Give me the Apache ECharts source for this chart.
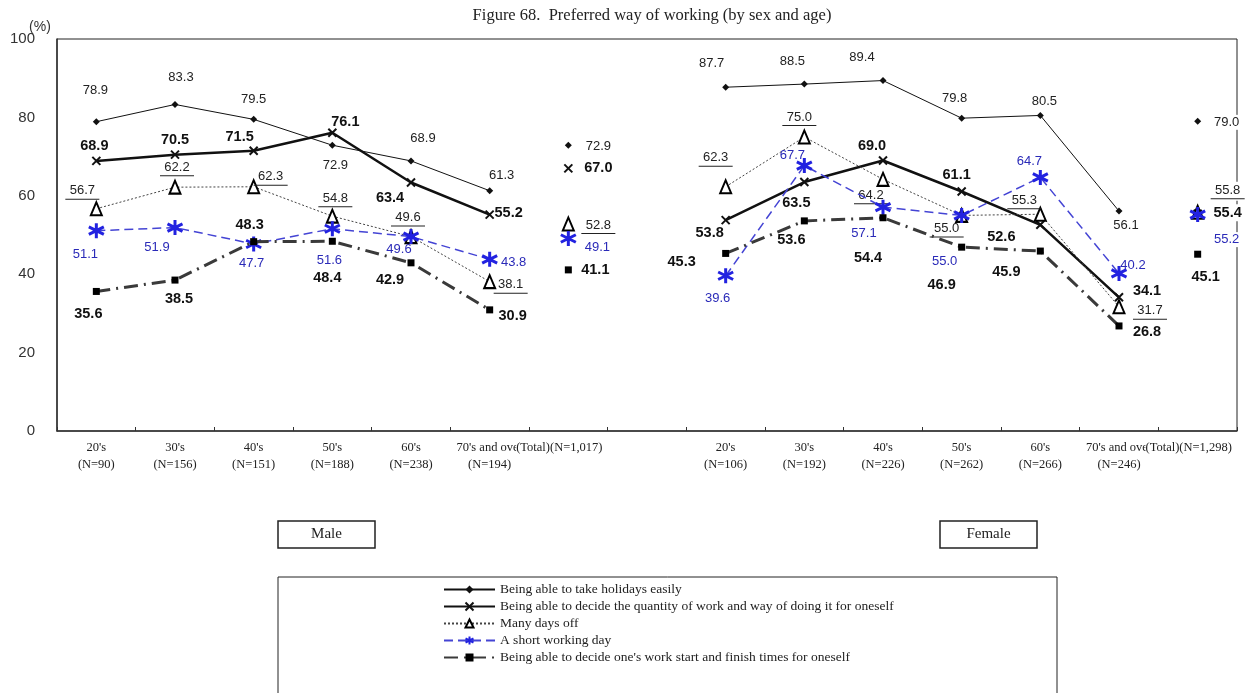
<!DOCTYPE html>
<html>
<head>
<meta charset="utf-8">
<script src="https://cdn.jsdelivr.net/npm/echarts@6/dist/echarts.min.js"></script>
<style>
  html, body { margin: 0; padding: 0; background: #fff; }
  #chart { width: 1254px; height: 693px; }
</style>
</head>
<body>
<div id="chart"></div>
<script>
// Age groups: male block, male total, a spacer slot, female block, female total
const categories = [
  "20's\n(N=90)", "30's\n(N=156)", "40's\n(N=151)", "50's\n(N=188)", "60's\n(N=238)", "70's and over\n(N=194)",
  "(Total)(N=1,017)", "",
  "20's\n(N=106)", "30's\n(N=192)", "40's\n(N=226)", "50's\n(N=262)", "60's\n(N=266)", "70's and over\n(N=246)",
  "(Total)(N=1,298)"
];
const yTicks = [0, 20, 40, 60, 80, 100];

const seriesNames = [
  "Being able to take holidays easily",
  "Being able to decide the quantity of work and way of doing it for oneself",
  "Many days off",
  "A short working day",
  "Being able to decide one's work start and finish times for oneself"
];

// Percentages by age group; totals are [male, female]
const holidaysMale   = [78.9, 83.3, 79.5, 72.9, 68.9, 61.3];
const holidaysFemale = [87.7, 88.5, 89.4, 79.8, 80.5, 56.1];
const holidaysTotal  = [72.9, 79.0];

const quantityMale   = [68.9, 70.5, 71.5, 76.1, 63.4, 55.2];
const quantityFemale = [53.8, 63.5, 69.0, 61.1, 52.6, 34.1];
const quantityTotal  = [67.0, 55.4];

const daysOffMale    = [56.7, 62.2, 62.3, 54.8, 49.6, 38.1];
const daysOffFemale  = [62.3, 75.0, 64.2, 55.0, 55.3, 31.7];
const daysOffTotal   = [52.8, 55.8];

const shortDayMale   = [51.1, 51.9, 47.7, 51.6, 49.6, 43.8];
const shortDayFemale = [39.6, 67.7, 57.1, 55.0, 64.7, 40.2];
const shortDayTotal  = [49.1, 55.2];

const startEndMale   = [35.6, 38.5, 48.3, 48.4, 42.9, 30.9];
const startEndFemale = [45.3, 53.6, 54.4, 46.9, 45.9, 26.8];
const startEndTotal  = [41.1, 45.1];

// Label offsets in px from each marker: 6 male, male total, 6 female, female total
const holidaysLabelPos = [[-1,-31],[6,-27],[0,-20],[3,20],[12,-22],[12,-15],[30,1],
                          [-14,-24],[-12,-23],[-21,-23],[-7,-20],[4,-14],[7,14],[29,1]];
const quantityLabelPos = [[-2,-15],[0,-15],[-14,-14],[13,-11],[-21,16],[19,-2],[30,0],
                          [-16,13],[-8,21],[-11,-15],[-5,-16],[-39,12],[28,-6],[30,-1]];
const daysOffLabelPos  = [[-14,-18],[2,-20],[17,-10],[3,-18],[-3,-19],[21,3],[30,1],
                          [-10,-29],[-5,-20],[-12,16],[-15,13],[-16,-14],[31,4],[30,-22]];
const shortDayLabelPos = [[-11,24],[-18,20],[-2,19],[-3,32],[-12,13],[24,3],[29,9],
                          [-8,23],[-12,-10],[-19,26],[-17,46],[-11,-16],[14,-8],[29,25]];
const startEndLabelPos = [[-8,23],[4,19],[-4,-17],[-5,37],[-21,17],[23,6],[27,0],
                          [-44,9],[-13,19],[-15,40],[-20,38],[-34,21],[28,6],[8,23]];

const SANS = 'Liberation Sans, Arial, sans-serif';
const SERIF = 'Liberation Serif, Times New Roman, serif';
const crossSymbol = 'path://M0,0L10,10M10,0L0,10';
const starSymbol = 'path://M5,0L5,10M0.7,2.5L9.3,7.5M0.7,7.5L9.3,2.5';

const fmt = p => p.value.toFixed(1);
const fmtUnderline = p => '{t|' + p.value.toFixed(1) + '}\n{u| }';

const plainLabel = { color: '#222', fontSize: 13, fontFamily: SANS };
const boldLabel = { color: '#111', fontSize: 14.5, fontWeight: 'bold', fontFamily: SANS };
const blueLabel = { color: '#2a2ab8', fontSize: 13, fontFamily: SANS };
const underlineLabel = {
  rich: {
    t: { color: '#222', fontSize: 13, fontFamily: SANS, lineHeight: 15 },
    u: { width: 34, height: 1, lineHeight: 2, fontSize: 1, backgroundColor: '#222' }
  }
};

function lineData(male, female, pos, dy) {
  const d = [];
  const item = (v, o) => ({ value: v, label: { offset: [o[0], o[1] + dy] } });
  male.forEach((v, i) => d.push(item(v, pos[i])));
  d.push('-', '-');
  female.forEach((v, i) => d.push(item(v, pos[7 + i])));
  d.push('-');
  return d;
}
function totalData(total, pos, dy) {
  const d = categories.map(() => '-');
  d[6] = { value: total[0], label: { offset: [pos[6][0], pos[6][1] + dy] } };
  d[14] = { value: total[1], label: { offset: [pos[13][0], pos[13][1] + dy],
                                      backgroundColor: '#fff', padding: [1, 2] } };
  return d;
}

const defs = [
  { male: holidaysMale, female: holidaysFemale, total: holidaysTotal, pos: holidaysLabelPos,
    line: { color: '#111', width: 1 }, symbol: 'diamond', size: 7,
    item: { color: '#111', opacity: 1 }, label: Object.assign({ formatter: fmt }, plainLabel), dy: 0 },
  { male: quantityMale, female: quantityFemale, total: quantityTotal, pos: quantityLabelPos,
    line: { color: '#111', width: 2.5 }, symbol: crossSymbol, size: 8,
    item: { color: '#111', borderColor: '#111', borderWidth: 2, opacity: 1 },
    label: Object.assign({ formatter: fmt }, boldLabel), dy: 0 },
  { male: daysOffMale, female: daysOffFemale, total: daysOffTotal, pos: daysOffLabelPos,
    line: { color: '#444', width: 1, type: [2, 2] }, symbol: 'triangle', size: [11, 13],
    item: { color: '#fff', borderColor: '#000', borderWidth: 2, opacity: 1 },
    label: Object.assign({ formatter: fmtUnderline }, underlineLabel), dy: 1 },
  { male: shortDayMale, female: shortDayFemale, total: shortDayTotal, pos: shortDayLabelPos,
    line: { color: '#4444d4', width: 1.5, type: [9, 5] }, symbol: starSymbol, size: 15,
    item: { color: '#2222e0', borderColor: '#2222e0', borderWidth: 3, opacity: 1 },
    label: Object.assign({ formatter: fmt }, blueLabel), dy: 0 },
  { male: startEndMale, female: startEndFemale, total: startEndTotal, pos: startEndLabelPos,
    line: { color: '#3a3a3a', width: 3, type: [14, 6, 2, 6] }, symbol: 'rect', size: 7,
    item: { color: '#000', opacity: 1 }, label: Object.assign({ formatter: fmt }, boldLabel), dy: 0 }
];

const series = [];
defs.forEach((s, k) => {
  const label = Object.assign({ show: true, position: 'inside', align: 'center', verticalAlign: 'middle' }, s.label);
  series.push({
    type: 'line', name: seriesNames[k], data: lineData(s.male, s.female, s.pos, s.dy),
    symbol: s.symbol, symbolSize: s.size, showSymbol: true, showAllSymbol: true,
    lineStyle: s.line, itemStyle: s.item, label: label, z: 2 + k,
    emphasis: { disabled: true }, connectNulls: false
  });
});
defs.forEach((s, k) => {
  const label = Object.assign({ show: true, position: 'inside', align: 'center', verticalAlign: 'middle' }, s.label);
  series.push({
    type: 'scatter', name: seriesNames[k], data: totalData(s.total, s.pos, s.dy),
    symbol: s.symbol, symbolSize: s.size, itemStyle: s.item, label: label, z: 2 + k,
    emphasis: { disabled: true }
  });
});

const xCats = categories.map((c, i) => (i === 6 || i === 14)
  ? { value: c, textStyle: { backgroundColor: '#fff', padding: [0, 18, 0, 0] } }
  : c);

const chart = echarts.init(document.getElementById('chart'), null, { renderer: 'canvas' });
chart.setOption({
  animation: false,
  backgroundColor: '#fff',
  grid: { left: 57, right: 17, top: 39, bottom: 262, show: true, borderColor: '#222', borderWidth: 1 },
  xAxis: {
    type: 'category', data: xCats, boundaryGap: true,
    axisLine: { lineStyle: { color: '#333', width: 1.5 } },
    axisTick: { show: true, inside: true, length: 4, lineStyle: { color: '#333' } },
    axisLabel: { interval: 0, fontFamily: SERIF, fontSize: 12.5, color: '#222', lineHeight: 17, margin: 8 }
  },
  yAxis: {
    type: 'value', min: yTicks[0], max: yTicks[yTicks.length - 1], interval: 20,
    axisLine: { show: true, lineStyle: { color: '#333', width: 1.5 } },
    axisTick: { show: false }, splitLine: { show: false },
    axisLabel: { margin: 22, fontSize: 15, color: '#333', fontFamily: SANS }
  },
  legend: {
    data: seriesNames, orient: 'vertical', left: 443, top: 582, padding: 0,
    itemWidth: 51, itemHeight: 10, itemGap: 2, selectedMode: false,
    textStyle: { fontFamily: SERIF, fontSize: 13.5, color: '#222', lineHeight: 15 }
  },
  graphic: [
    { type: 'text', style: { x: 652, y: 16, text: 'Figure 68.  Preferred way of working (by sex and age)',
      font: '16.5px ' + SERIF, fill: '#222', textAlign: 'center', textVerticalAlign: 'middle' }, silent: true },
    { type: 'text', style: { x: 40, y: 27, text: '(%)', font: '14px ' + SANS, fill: '#333',
      textAlign: 'center', textVerticalAlign: 'middle' }, silent: true },
    { type: 'rect', shape: { x: 278, y: 521, width: 97, height: 27 },
      style: { fill: '#fff', stroke: '#222', lineWidth: 1.5 }, silent: true },
    { type: 'text', style: { x: 326.5, y: 534.5, text: 'Male', font: '15px ' + SERIF, fill: '#222',
      textAlign: 'center', textVerticalAlign: 'middle' }, silent: true },
    { type: 'rect', shape: { x: 940, y: 521, width: 97, height: 27 },
      style: { fill: '#fff', stroke: '#222', lineWidth: 1.5 }, silent: true },
    { type: 'text', style: { x: 988.5, y: 534.5, text: 'Female', font: '15px ' + SERIF, fill: '#222',
      textAlign: 'center', textVerticalAlign: 'middle' }, silent: true },
    { type: 'rect', shape: { x: 278, y: 577, width: 779, height: 140 },
      style: { fill: 'none', stroke: '#222', lineWidth: 1 }, silent: true, z: -1 }
  ],
  series: series
});
</script>
</body>
</html>
